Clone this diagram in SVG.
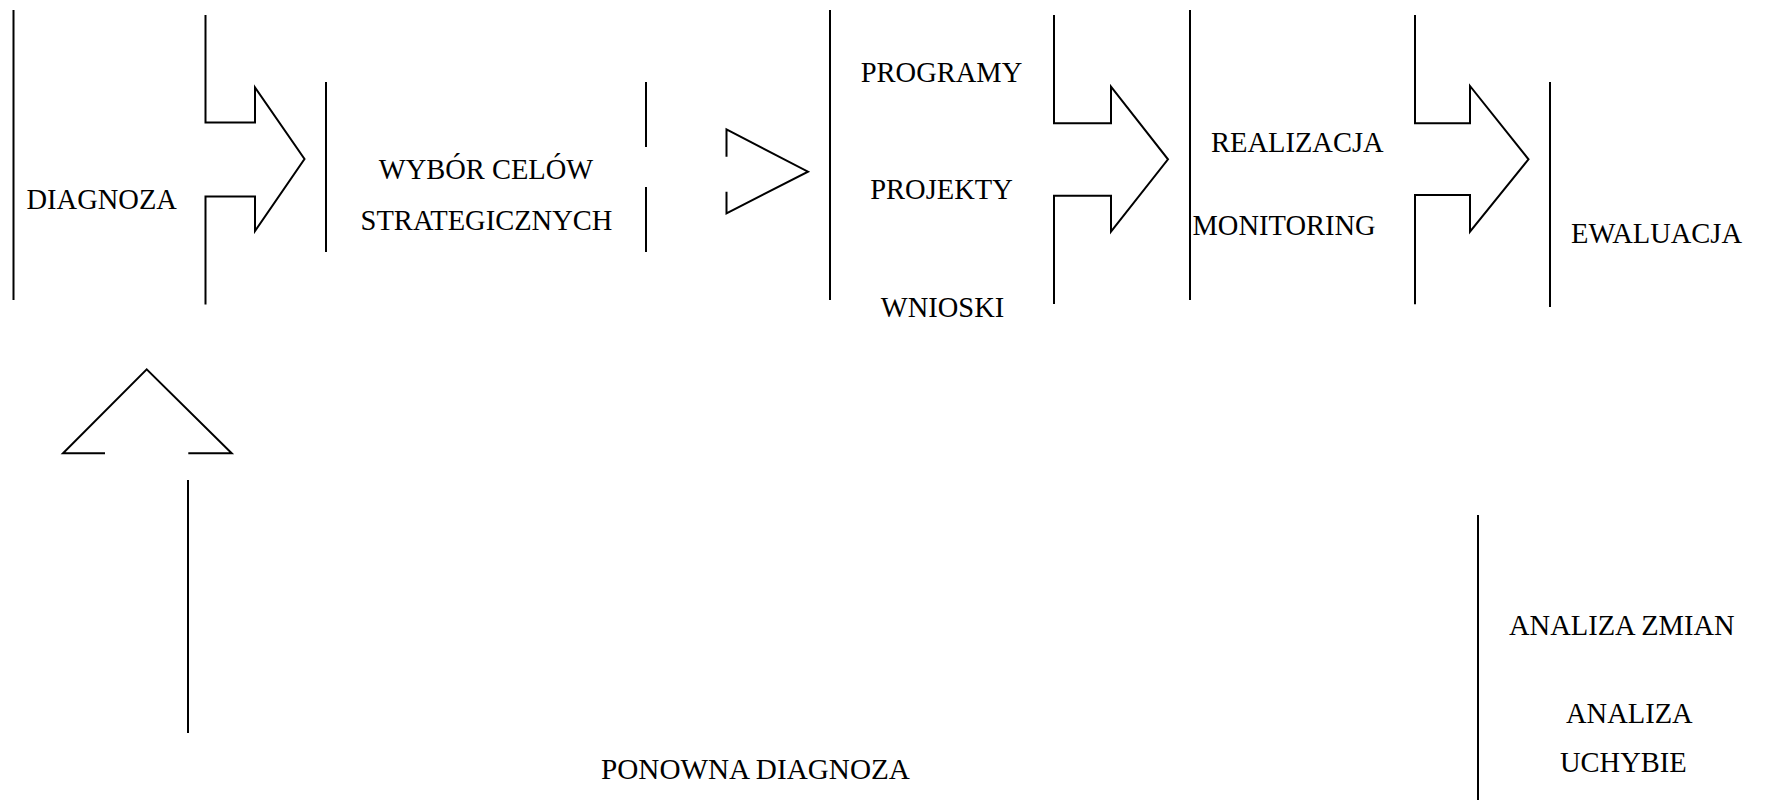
<svg xmlns="http://www.w3.org/2000/svg" width="1769" height="803" viewBox="0 0 1769 803" font-family="'Liberation Serif', 'Times New Roman', Times, serif">
<style>
.ln{stroke:#000;stroke-width:2;fill:none}
.ar{stroke:#000;stroke-width:2;fill:none;stroke-linejoin:miter}
text{font-family:'Liberation Serif','Times New Roman',Times,serif;font-size:28.5px;fill:#000}
.m{text-anchor:middle}
</style>
<rect width="1769" height="803" fill="#fff"/>
<g id="diagnoza">
<line class="ln" x1="13.5" y1="10" x2="13.5" y2="300"/>
<text x="26.5" y="209">DIAGNOZA</text>
</g>
<g id="wybor">
<line class="ln" x1="326" y1="82" x2="326" y2="252"/>
<line class="ln" x1="646" y1="82" x2="646" y2="147"/>
<line class="ln" x1="646" y1="187" x2="646" y2="252"/>
<text class="m" x="486" y="179">WYBÓR CELÓW</text>
<text class="m" x="486.5" y="230">STRATEGICZNYCH</text>
</g>
<g id="programy">
<line class="ln" x1="830" y1="10" x2="830" y2="300"/>
<text class="m" x="941.5" y="82">PROGRAMY</text>
<text class="m" x="941.5" y="199">PROJEKTY</text>
<text class="m" x="942.5" y="316.5">WNIOSKI</text>
</g>
<g id="realizacja">
<line class="ln" x1="1190" y1="10" x2="1190" y2="300"/>
<text x="1211" y="151.5">REALIZACJA</text>
<text x="1192.5" y="235">MONITORING</text>
</g>
<g id="ewaluacja">
<line class="ln" x1="1550" y1="82" x2="1550" y2="307"/>
<text x="1571" y="242.5">EWALUACJA</text>
</g>
<g id="analiza">
<line class="ln" x1="1478" y1="515" x2="1478" y2="800"/>
<text x="1509" y="635">ANALIZA ZMIAN</text>
<text x="1566" y="722.5">ANALIZA</text>
<text x="1560" y="771.5">UCHYBIE</text>
</g>
<g id="ponowna">
<text x="601" y="779.3" style="font-size:29.2px">PONOWNA DIAGNOZA</text>
</g>
<g id="connectors">
<polyline class="ar" points="205.5,15 205.5,122.5 255,122.5 255,87.5 304.5,159 255,231 255,196.5 205.5,196.5 205.5,304.5"/>
<polyline class="ar" points="726.5,156.7 726.5,129.3 808,171.7 726.5,213.3 726.5,191.7"/>
<polyline class="ar" points="1054,15 1054,123.3 1111,123.3 1111,86.7 1168,159.3 1111,231.7 1111,195.7 1054,195.7 1054,304"/>
<polyline class="ar" points="1415,15 1415,123.3 1470,123.3 1470,86 1528.5,159.3 1470,231.7 1470,195 1415,195 1415,304.3"/>
<polyline class="ar" points="105,453.3 63,453.3 146.7,369.3 231.7,453.3 188.3,453.3"/>
<line class="ln" x1="188" y1="480" x2="188" y2="733"/>
</g>
</svg>
